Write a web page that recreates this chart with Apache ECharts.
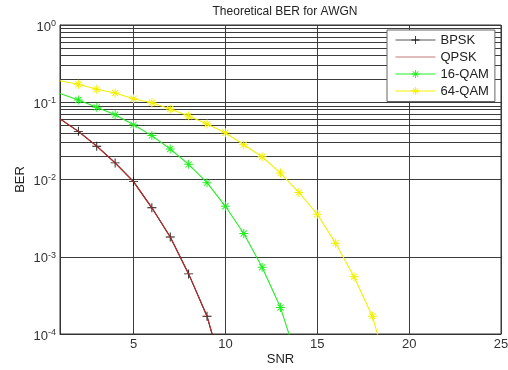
<!DOCTYPE html>
<html>
<head>
<meta charset="utf-8">
<script src="https://cdn.jsdelivr.net/npm/echarts@6/dist/echarts.min.js"></script>
<style>html,body{margin:0;padding:0;background:#fff;}#c{width:508px;height:370px;}</style>
</head>
<body>
<div id="c"></div>
<script>
// ---- data ----
var titleText = 'Theoretical BER for AWGN';
var snr = [1,2,3,4,5,6,7,8,9,10,11,12,13,14,15,16,17,18,19];
var bpsk = [0.061, 0.042, 0.027, 0.0164, 0.0094, 0.0043, 0.0018, 0.0006, 0.00017, 0.000025];
var qpsk = [0.061, 0.042, 0.027, 0.0164, 0.0094, 0.0043, 0.0018, 0.0006, 0.00017, 0.000025];
var qam16 = [0.13, 0.107, 0.086, 0.069, 0.051, 0.037, 0.0248, 0.0157, 0.0091, 0.0045, 0.0020, 0.00073, 0.00022, 0.00004];
var qam64 = [0.19, 0.171, 0.147, 0.132, 0.111, 0.0986, 0.0818, 0.0664, 0.0523, 0.0403, 0.0282, 0.0197, 0.0121, 0.0068, 0.00355, 0.0015, 0.00055, 0.00017, 0.000025];
var xTicks = [5, 10, 15, 20, 25];
var yMin = 0.0001, yMax = 1;
var minorGrid = [];
[0.0001, 0.001, 0.01, 0.1].forEach(function (d) {
  for (var k = 2; k <= 9; k++) minorGrid.push(+(d * k).toPrecision(3));
});

// first point sits on the left frame: no marker drawn there
function pairs(vals) {
  return vals.map(function (v, i) {
    return i === 0 ? {value: [snr[i], v], symbol: 'none'} : [snr[i], v];
  });
}

var plusPath = 'path://M4.5,0h1v10h-1zM0,4.5h10v1h-10z';
var starPath = 'path://M4.45,0h1.1v10h-1.1zM0,4.45h10v1.1h-10zM1.2,1.9L1.9,1.2L8.8,8.1L8.1,8.8zM8.1,1.2L8.8,1.9L1.9,8.8L1.2,8.1z';

var cBPSK = '#111111', cQPSK = '#c42a2a', c16 = '#22ee22', c64 = '#f2f000';
var gridColor = '#3c3c3c';
var font = 'Liberation Sans, Arial';
var chart = echarts.init(document.getElementById('c'), null, {renderer: 'canvas'});
chart.setOption({
  animation: false,
  backgroundColor: '#fff',
  title: {
    text: titleText, left: 280, top: 1, textAlign: 'center',
    textStyle: {fontFamily: font, fontSize: 12, fontWeight: 'normal', color: '#222'}
  },
  grid: {
    left: 60, top: 25, width: 441, height: 309, outerBoundsMode: 'none', containLabel: false,
    show: true, borderColor: '#333', borderWidth: 1, backgroundColor: 'transparent'
  },
  legend: {
    orient: 'vertical', left: 387, top: 30, z: 20,
    padding: [3.5, 6, 4, 8], itemWidth: 40, itemHeight: 10, itemGap: 4,
    backgroundColor: '#fff', borderColor: '#666', borderWidth: 1,
    data: [
      {name: 'BPSK', lineStyle: {color: '#555', width: 1}, itemStyle: {color: cBPSK, borderWidth: 0}},
      {name: 'QPSK', lineStyle: {color: '#c07878', width: 1}, itemStyle: {opacity: 0, borderWidth: 0}},
      {name: '16-QAM', lineStyle: {color: c16, width: 1}, itemStyle: {color: c16, borderWidth: 0}},
      {name: '64-QAM', lineStyle: {color: c64, width: 1}, itemStyle: {color: c64, borderWidth: 0}}
    ],
    textStyle: {fontFamily: font, fontSize: 13, lineHeight: 13, color: '#222'}
  },
  xAxis: {
    type: 'value', min: 1, max: 25,
    name: 'SNR', nameLocation: 'middle', nameGap: 19, nameMoveOverlap: false,
    nameTextStyle: {fontFamily: font, fontSize: 13, color: '#222'},
    axisLine: {show: true, lineStyle: {color: '#333'}},
    axisTick: {show: false, customValues: xTicks},
    axisLabel: {customValues: xTicks, margin: 4, fontFamily: font, fontSize: 13, color: '#333'},
    splitLine: {show: true, lineStyle: {color: gridColor, width: 1}}
  },
  yAxis: {
    type: 'log', logBase: 10, min: yMin, max: yMax,
    name: 'BER', nameLocation: 'middle', nameGap: 33, nameMoveOverlap: false,
    nameTextStyle: {fontFamily: font, fontSize: 13, color: '#222'},
    axisLine: {show: true, lineStyle: {color: '#333'}},
    axisTick: {show: false},
    axisLabel: {
      margin: 4, padding: [4, 0, 0, 0], fontFamily: font, fontSize: 13, color: '#333',
      formatter: function (v) { return '{b|10}{s|' + Math.round(Math.log10(v)) + '}'; },
      rich: {
        b: {fontSize: 13, lineHeight: 16, fontFamily: font, color: '#333'},
        s: {fontSize: 9, lineHeight: 9, verticalAlign: 'top', fontFamily: font, color: '#333'}
      }
    },
    splitLine: {show: true, lineStyle: {color: gridColor, width: 1}}
  },
  series: [
    {
      name: 'minor', type: 'line', data: [], z: 1, silent: true,
      markLine: {
        z: 1, silent: true, symbol: 'none', animation: false,
        label: {show: false},
        lineStyle: {color: gridColor, width: 1, type: 'solid'},
        data: minorGrid.map(function (v) { return {yAxis: v}; })
      }
    },
    {
      name: 'BPSK', type: 'line', data: pairs(bpsk), z: 3,
      symbol: plusPath, symbolSize: 9, showSymbol: true,
      itemStyle: {color: cBPSK}, lineStyle: {color: cBPSK, width: 1.1}
    },
    {
      name: 'QPSK', type: 'line', data: qpsk.map(function (v, i) { return [snr[i], v]; }), z: 4,
      symbol: 'none', itemStyle: {color: cQPSK}, lineStyle: {color: cQPSK, width: 1.1}
    },
    {
      name: '16-QAM', type: 'line', data: pairs(qam16), z: 3,
      symbol: starPath, symbolSize: 9,
      itemStyle: {color: c16}, lineStyle: {color: c16, width: 1.1}
    },
    {
      name: '64-QAM', type: 'line', data: pairs(qam64), z: 3,
      symbol: starPath, symbolSize: 9,
      itemStyle: {color: c64}, lineStyle: {color: c64, width: 1.1}
    }
  ]
});
</script>
</body>
</html>
